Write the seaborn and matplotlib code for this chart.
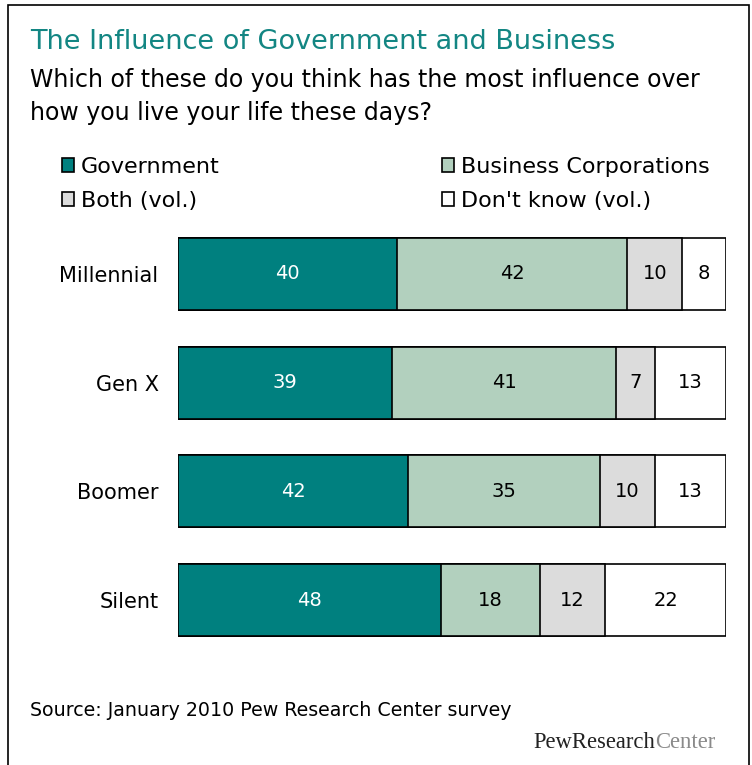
import numpy as np
import pandas as pd
import matplotlib.pyplot as plt
import seaborn as sns
from matplotlib.patches import Rectangle

# data
generations = ['Millennial', 'Gen X', 'Boomer', 'Silent']
government = [40, 39, 42, 48]
business = [42, 41, 35, 18]
both = [10, 7, 10, 12]
dont_know = [8, 13, 13, 22]

series_names = ['Government', 'Business Corporations', 'Both (vol.)', "Don't know (vol.)"]
colors = ['#00807f', '#b2d0be', '#dcdcdc', '#ffffff']
label_colors = ['white', 'black', 'black', 'black']

df = pd.DataFrame({'gen': generations, 'Government': government,
                   'Business Corporations': business, 'Both (vol.)': both,
                   "Don't know (vol.)": dont_know})
cum = df[series_names].cumsum(axis=1)

sns.set_style('white')
plt.rcParams['font.family'] = ['DejaVu Sans']
plt.rcParams['text.color'] = 'black'
plt.rcParams['ytick.color'] = 'black'

fig = plt.figure(figsize=(7.52, 7.65), dpi=100)
ax = fig.add_axes([178 / 752, 1 - 654.5 / 765, 548 / 752, 435 / 765])

# stacked bars: draw the running totals from the largest down
handles = {}
for name, color in reversed(list(zip(series_names, colors))):
    sns.barplot(x=cum[name], y=df['gen'], color=color, orient='h', width=0.66,
                edgecolor='black', linewidth=1.2, saturation=1, ax=ax)
    handles[name] = Rectangle((0, 0), 1, 1, facecolor=color, edgecolor='black', linewidth=1.2)

# value labels in the middle of each segment
for i, g in enumerate(generations):
    start = 0
    for name, tc in zip(series_names, label_colors):
        v = df.loc[i, name]
        ax.text(start + v / 2, i, str(v), ha='center', va='center', fontsize=14, color=tc)
        start += v

ax.set_xlim(0, 100)
ax.set_ylim(3.5, -0.5)
ax.set_xlabel('')
ax.set_ylabel('')
ax.set_xticks([])
ax.tick_params(axis='y', length=0, labelsize=15, pad=14, labelcolor='black')
for s in ax.spines.values():
    s.set_visible(False)

# legend, two columns
order = ['Government', 'Both (vol.)', 'Business Corporations', "Don't know (vol.)"]
fig.legend([handles[n] for n in order], order, ncol=2, loc='upper left',
           bbox_to_anchor=(62 / 752, 1 - 157 / 765), frameon=False, fontsize=16,
           labelcolor='black', handlelength=0.55, handleheight=0.55, handletextpad=0.3,
           columnspacing=10.0, labelspacing=0.62, borderaxespad=0, borderpad=0)

# titles and notes
fig.text(30 / 752, 1 - 42 / 765, 'The Influence of Government and Business',
         fontsize=19.5, color='#138683', va='center')
fig.text(30 / 752, 1 - 80 / 765, 'Which of these do you think has the most influence over',
         fontsize=17, color='black', va='center')
fig.text(30 / 752, 1 - 113 / 765, 'how you live your life these days?',
         fontsize=17, color='black', va='center')
fig.text(30 / 752, 1 - 710 / 765, 'Source: January 2010 Pew Research Center survey',
         fontsize=13.7, color='black', va='center')
logo = fig.text(533 / 752, 1 - 742 / 765, 'PewResearch', family='Liberation Serif',
                fontsize=16.3, color='#222222', va='center')
ax.annotate('Center', xy=(1, 0), xycoords=logo, va='bottom', ha='left',
            family='Liberation Serif', fontsize=16.3, color='#8a8a8a',
            annotation_clip=False)

# outer frame
fig.patches.append(Rectangle((8 / 752, -0.05), 741 / 752, 1 - 5 / 765 + 0.05,
                             transform=fig.transFigure, fill=False,
                             edgecolor='black', linewidth=1.2))

fig.savefig('out.png', dpi=100)
